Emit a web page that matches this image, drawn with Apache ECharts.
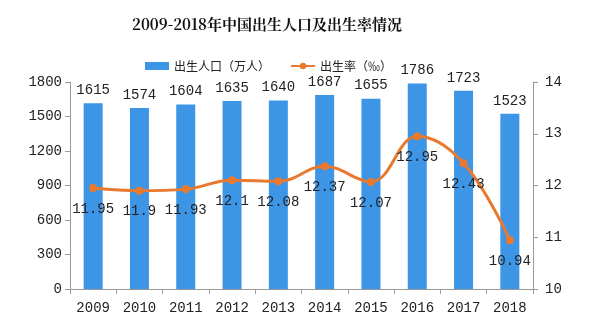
<!DOCTYPE html>
<html><head><meta charset="utf-8">
<script src="https://cdn.jsdelivr.net/npm/echarts@6/dist/echarts.min.js"></script>
<style>html,body{margin:0;padding:0;background:#fff}#c{width:603px;height:333px}</style>
</head><body><div id="c"></div>
<script>
const categories = ['2009','2010','2011','2012','2013','2014','2015','2016','2017','2018'];
const births = [1615,1574,1604,1635,1640,1687,1655,1786,1723,1523];
const rates = [11.95,11.9,11.93,12.1,12.08,12.37,12.07,12.95,12.43,10.94];
const leftTicks = {min:0, max:1800, interval:300};
const rightTicks = {min:10, max:14, interval:1};

const chart = echarts.init(document.getElementById('c'));
const numFont = '"Liberation Mono","DejaVu Sans Mono",monospace';
chart.setOption({
  animation:false,
  backgroundColor:'#fff',
  title:{text:'2009-2018年中国出生人口及出生率情况',left:127,top:12,
    textStyle:{fontSize:15,fontWeight:'bold',color:'#111',fontFamily:'"Noto Serif CJK SC","Noto Sans CJK SC",serif'}},
  legend:{top:55,left:140,itemGap:20,itemWidth:24,itemHeight:8,
    textStyle:{fontSize:12,color:'#222',fontFamily:'"Noto Sans CJK SC",sans-serif'},
    data:[{name:'出生人口（万人）',icon:'rect'},{name:'出生率（‰）'}]},
  grid:{left:70,right:70,top:82,bottom:44},
  xAxis:{type:'category',data:categories,
    axisLine:{lineStyle:{color:'#999'}},
    axisTick:{show:true,alignWithLabel:false,lineStyle:{color:'#999'}},
    axisLabel:{fontSize:14,color:'#222',margin:12,fontFamily:numFont}},
  yAxis:[
    {type:'value',min:leftTicks.min,max:leftTicks.max,interval:leftTicks.interval,
      axisLine:{show:true,lineStyle:{color:'#999'}},axisTick:{show:true,lineStyle:{color:'#999'}},
      splitLine:{show:false},axisLabel:{fontSize:14,color:'#222',fontFamily:numFont,formatter:v=>String(v)}},
    {type:'value',min:rightTicks.min,max:rightTicks.max,interval:rightTicks.interval,
      axisLine:{show:true,lineStyle:{color:'#999'}},axisTick:{show:true,lineStyle:{color:'#999'}},
      splitLine:{show:false},axisLabel:{fontSize:14,color:'#222',margin:12,fontFamily:numFont,formatter:v=>String(v)}}
  ],
  series:[
    {name:'出生人口（万人）',type:'bar',data:births,barWidth:19,
      itemStyle:{color:'#3d95e6'},
      label:{show:true,position:'top',distance:6,fontSize:14,color:'#222',fontFamily:numFont}},
    {name:'出生率（‰）',type:'line',yAxisIndex:1,data:rates,smooth:0.4,
      symbol:'circle',symbolSize:8,
      lineStyle:{color:'#e8792f',width:3},itemStyle:{color:'#e8792f'},
      label:{show:true,position:'bottom',distance:10,fontSize:14,color:'#222',fontFamily:numFont}}
  ]
});
</script></body></html>
